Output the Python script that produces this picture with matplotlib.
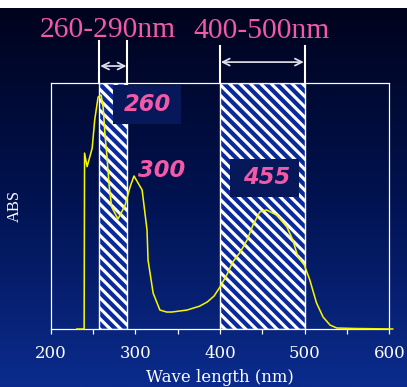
import numpy as np
import matplotlib
matplotlib.use('Agg')
import matplotlib.pyplot as plt
from matplotlib.colors import LinearSegmentedColormap
from matplotlib.patches import Rectangle

plt.rcParams['hatch.linewidth'] = 1.8

# 吸收光谱数据
wavelength = [231, 239.5, 240, 243, 249, 252, 256, 259.5, 262, 264, 266.5, 269, 272,
              279.5, 288, 293.7, 298.4, 308, 313.8, 315, 321, 329, 337, 343, 361, 376,
              385, 393, 400, 408, 415, 424, 432, 439, 447, 455, 467, 479, 486, 492,
              499.6, 506, 514, 521.7, 530, 538, 560, 604]
absorbance = [0.0, 0.0, 0.715, 0.66, 0.735, 0.85, 0.943, 0.951, 0.90, 0.797, 0.70, 0.585,
              0.496, 0.447, 0.504, 0.577, 0.622, 0.565, 0.402, 0.28, 0.146, 0.077, 0.069,
              0.069, 0.077, 0.093, 0.11, 0.134, 0.171, 0.22, 0.272, 0.313, 0.362, 0.423,
              0.476, 0.484, 0.463, 0.415, 0.362, 0.293, 0.26, 0.2, 0.106, 0.049, 0.016,
              0.004, 0.002, 0.0]

bands = [(257.5, 290.5), (400, 500)]
band_titles = ['260-290nm', '400-500nm']
title_x = [267.7, 449]
peak_labels = ['260', '300', '455']
peak_pos = [(313.8, 0.911), (330.7, 0.646), (455, 0.614)]
peak_boxes = [(273.6, 0.833, 80.4, 0.159), None, (411.8, 0.537, 81.5, 0.154)]

pink = '#f25aa8'
dpi = 125
fig = plt.figure(figsize=(407 / dpi, 387 / dpi), dpi=dpi, facecolor='white')

# 背景渐变
bg = fig.add_axes([0, 0, 1, 1 - 8 / 387])
cmap = LinearSegmentedColormap.from_list('bg', ['#00031c', '#011250', '#0b2c8e'])
grad = np.linspace(0, 1, 256).reshape(-1, 1)
bg.imshow(grad, aspect='auto', cmap=cmap, extent=[0, 1, 0, 1], origin='upper')
bg.set_axis_off()

ax = fig.add_axes([50.7 / 407, 1 - 329 / 387, 338.6 / 407, 246 / 387])
ax.set_facecolor('none')
ax.set_xlim(200, 600)
ax.set_ylim(0, 1)

for (x0, x1) in bands:
    ax.add_patch(Rectangle((x0, 0), x1 - x0, 1, facecolor='#0a2a9c', edgecolor='white',
                           hatch='\\\\\\\\', linewidth=0.8, zorder=1))

for lab, (px, py), box in zip(peak_labels, peak_pos, peak_boxes):
    if box is not None:
        ax.add_patch(Rectangle((box[0], box[1]), box[2], box[3], facecolor='#06185a',
                               edgecolor='none', zorder=2, clip_on=False))
    ax.text(px, py, lab, color=pink, fontsize=13, fontweight='bold', fontstyle='italic',
            family='DejaVu Sans', ha='center', va='center', zorder=4)

ax.plot(wavelength, absorbance, color='#f5f500', linewidth=0.9, zorder=3, clip_on=False)

# 上方标注
title_y = [1.215, 1.21]
line_top = [1.171, 1.150]
arrow_y = [1.069, 1.085]
for (x0, x1), t, tx, ty, lt, ay in zip(bands, band_titles, title_x, title_y, line_top, arrow_y):
    for x in (x0, x1):
        ax.plot([x, x], [1, lt], color='white', linewidth=1.2, clip_on=False)
    ax.annotate('', xy=(x0 + 1, ay), xytext=(x1 - 1, ay),
                arrowprops=dict(arrowstyle='<->', color='#e0e0e8', lw=1.0,
                                shrinkA=0, shrinkB=0), annotation_clip=False)
    ax.text(tx, ty, t, color=pink, fontsize=17, family='Liberation Serif',
            ha='center', va='center', clip_on=False)

for s in ax.spines.values():
    s.set_color('white')
    s.set_linewidth(0.7)
ax.set_xticks([200, 300, 400, 500, 600])
ax.set_xticks(np.arange(250, 600, 100), minor=True)
ax.tick_params(axis='x', which='both', colors='white', direction='out', length=3, width=0.7)
ax.tick_params(axis='x', labelsize=9.5, pad=6)
ax.set_yticks([])
for lbl in ax.get_xticklabels():
    lbl.set_family('DejaVu Serif')
ax.set_xlabel('Wave length (nm)', color='white', fontsize=9.5, family='DejaVu Serif',
              labelpad=4)
ax.set_ylabel('ABS', color='white', fontsize=9.5, family='Liberation Serif', labelpad=16)

fig.savefig('out.png', dpi=dpi)
